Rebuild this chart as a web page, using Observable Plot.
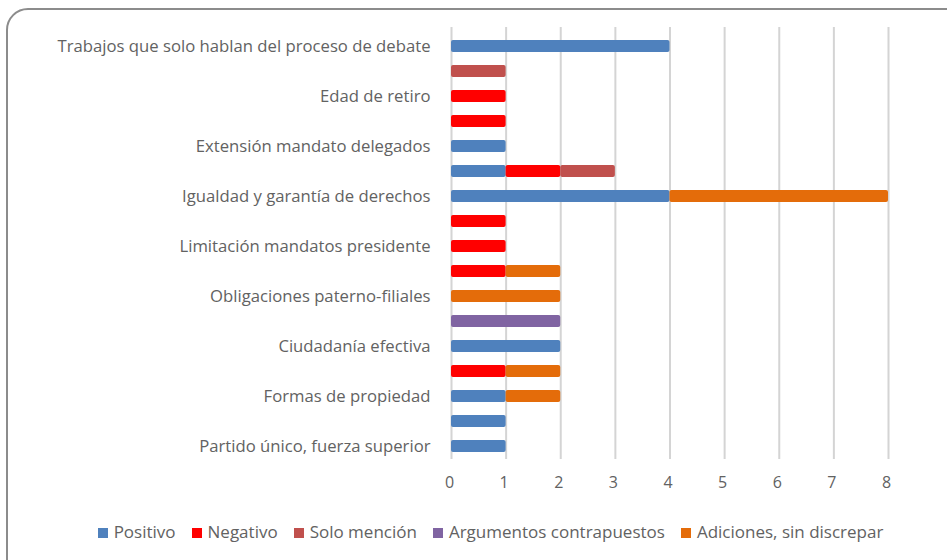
<!DOCTYPE html>
<html><head><meta charset="utf-8">
<script src="https://cdn.jsdelivr.net/npm/d3@7"></script>
<script src="https://cdn.jsdelivr.net/npm/@observablehq/plot@0.6"></script>
<style>
body{margin:0;background:#fff;font-family:"Open Sans",sans-serif;}
#wrap{position:relative;width:947px;height:560px;overflow:hidden;}
#frame{position:absolute;left:6px;top:8px;width:970px;height:580px;border:2px solid #8c8c8c;border-radius:22px;box-sizing:border-box;}
#chart{position:absolute;left:0;top:0;}
#legend{position:absolute;left:17px;width:947px;top:520px;text-align:center;font-size:17px;color:#626262;white-space:nowrap;}
#legend span.item{margin:0 8px;}
#legend span.sw{display:inline-block;width:10px;height:10px;margin-right:6px;vertical-align:0px;}
</style></head><body>
<div id="wrap"><div id="frame"></div><div id="chart"></div><div id="legend"></div></div>
<script>
const rowIds = ["r1","r2","r3","r4","r5","r6","r7","r8","r9","r10","r11","r12","r13","r14","r15","r16","r17"];
const rowLabels = ["Trabajos que solo hablan del proceso de debate","","Edad de retiro","","Extensión mandato delegados","","Igualdad y garantía de derechos","","Limitación mandatos presidente","","Obligaciones paterno-filiales","","Ciudadanía efectiva","","Formas de propiedad","","Partido único, fuerza superior"];
const seriesNames = ["Positivo","Negativo","Solo mención","Argumentos contrapuestos","Adiciones, sin discrepar"];
const seriesColors = ["#4F81BD","#FF0000","#C0504D","#8064A2","#E46C0A"];
const positivo   = [4,0,0,0,1,1,4,0,0,0,0,0,2,0,1,1,1];
const negativo   = [0,0,1,1,0,1,0,1,1,1,0,0,0,1,0,0,0];
const soloMencion= [0,1,0,0,0,1,0,0,0,0,0,0,0,0,0,0,0];
const argumentos = [0,0,0,0,0,0,0,0,0,0,0,2,0,0,0,0,0];
const adiciones  = [0,0,0,0,0,0,4,0,0,1,2,0,0,1,1,0,0];
const xTicks = [0,1,2,3,4,5,6,7,8];

const seriesValues = [positivo, negativo, soloMencion, argumentos, adiciones];
const table = [];
seriesNames.forEach((s, si) => {
  seriesValues[si].forEach((v, i) => { if (v > 0) table.push({row: rowIds[i], series: s, value: v}); });
});
const labelOf = Object.fromEntries(rowIds.map((r, i) => [r, rowLabels[i]]));

const chart = Plot.plot({
  width: 947, height: 500,
  marginLeft: 451, marginRight: 59, marginTop: 32, marginBottom: 41,
  style: {fontFamily: "'Open Sans', sans-serif", color: "#626262", background: "transparent"},
  x: {domain: [0, 8]},
  y: {domain: rowIds, paddingInner: 0.52, paddingOuter: 0.26},
  color: {domain: seriesNames, range: seriesColors},
  marks: [
    Plot.ruleX(xTicks, {x: d => d, stroke: "#d4d4d4", strokeWidth: 2, insetTop: -5}),
    Plot.barX(table, {x: "value", y: "row", fill: "series", rx: 2}),
    Plot.axisX({ticks: xTicks, tickSize: 0, tickPadding: 17, fontSize: 16, label: null, dx: -2}),
    Plot.axisY({tickSize: 0, tickPadding: 21, fontSize: 16.7, label: null, tickFormat: d => labelOf[d]})
  ]
});
document.getElementById("chart").appendChild(chart);

const legend = document.getElementById("legend");
seriesNames.forEach((s, i) => {
  const it = document.createElement("span");
  it.className = "item";
  it.innerHTML = `<span class="sw" style="background:${seriesColors[i]}"></span>${s}`;
  legend.appendChild(it);
});
</script>
</body></html>
